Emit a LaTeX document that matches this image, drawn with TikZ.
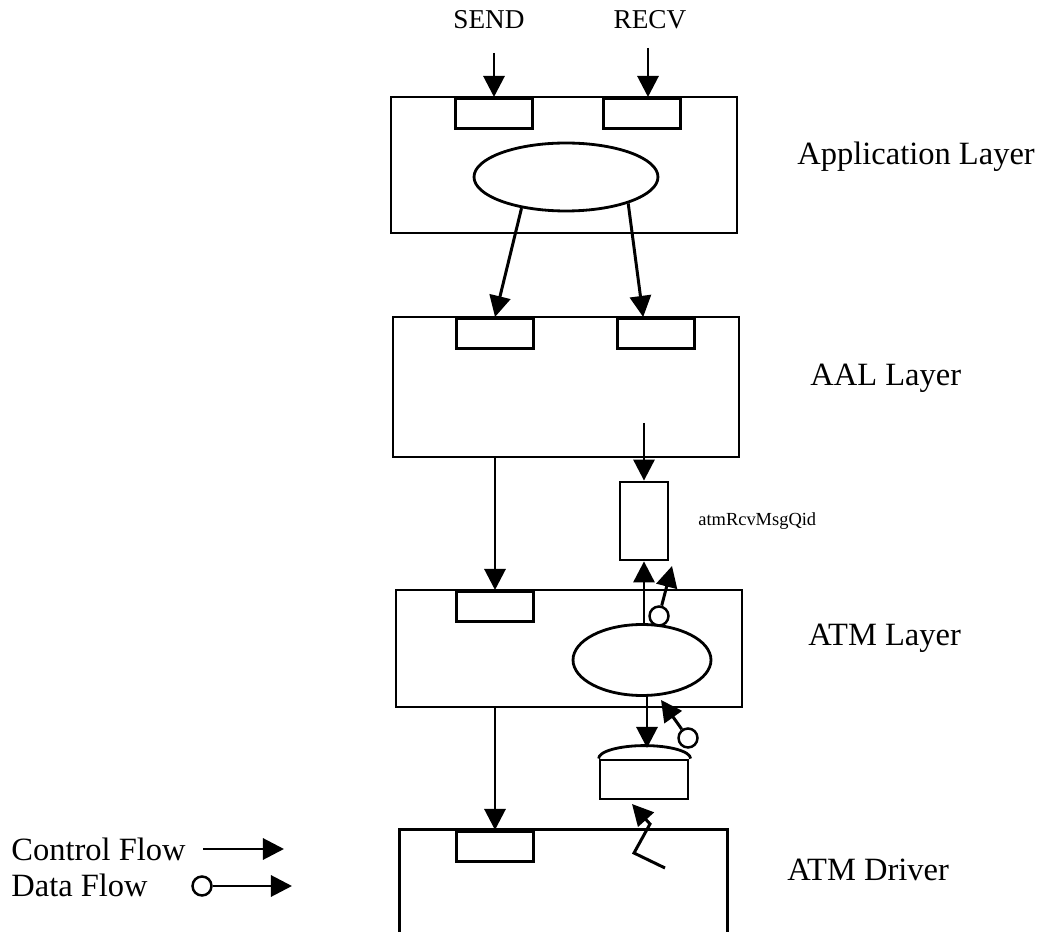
\documentclass[tikz,border=0pt]{standalone}
\usepackage{fontspec}
\setmainfont{Liberation Serif}
\usetikzlibrary{arrows.meta, shapes.geometric}

\begin{document}
\begin{tikzpicture}[
    x=0.02cm, y=-0.02cm,
    layer/.style={draw, line width=1.6pt, inner sep=0pt},
    port/.style={draw, line width=1.6pt, anchor=north, minimum width=1.55cm, minimum height=0.6cm, inner sep=0pt},
    proc/.style={draw, ellipse, line width=1.6pt, inner sep=0pt},
    dot/.style={draw, circle, line width=1.4pt, minimum size=0.38cm, inner sep=0pt},
    lbl/.style={anchor=west, inner sep=0pt, font=\fontsize{18.5pt}{22pt}\selectfont},
    sig/.style={font=\fontsize{15.5pt}{18pt}\selectfont},
    flow/.style={-{Triangle[length=12pt,width=12pt]}, line width=1.7pt}
]
  \useasboundingbox (0,0) rectangle (1046,932);

  % layers
  \node[layer, minimum width=6.92cm, minimum height=2.72cm] (app) at (564,165) {};
  \node[layer, minimum width=6.92cm, minimum height=2.8cm] (aal) at (566,387) {};
  \node[layer, minimum width=6.92cm, minimum height=2.34cm] (atm) at (569,648.5) {};
  \node[minimum width=6.54cm, minimum height=2.04cm, inner sep=0pt] (drv) at (563.5,881) {};
  \draw[line width=1.6pt] (drv.south west) |- (drv.north east) -- (drv.south east);

  \node[port] (appsend) at (494,97) {};
  \node[port] (apprecv) at (642,97) {};
  \node[port] (aalsend) at (495,317) {};
  \node[port] (aalrecv) at (656,317) {};
  \node[port] (atmport) at (495,590) {};
  \node[port] (drvport) at (495,830) {};

  \node[proc, minimum width=3.68cm, minimum height=1.36cm] (appproc) at (566,177) {};
  \node[proc, minimum width=2.76cm, minimum height=1.42cm] (atmproc) at (642,660) {};

  \node[layer, minimum width=0.96cm, minimum height=1.56cm] (queue) at (644,521) {};
  \node[layer, minimum width=1.76cm, minimum height=0.78cm] (disk) at (644,779.5) {};
  \draw[line width=1.6pt] (disk.north west) arc[start angle=180, end angle=0, x radius=0.92cm, y radius=0.26cm];

  % labels
  \node[sig] (send) at (489,20) {SEND};
  \node[sig] (recv) at (650,20) {RECV};
  \node[lbl] (applbl) at (797,157) {Application Layer};
  \node[lbl] (aallbl) at (810,378) {AAL Layer};
  \node[lbl] (atmlbl) at (808,638) {ATM Layer};
  \node[lbl] (drvlbl) at (787,870) {ATM Driver};
  \node[anchor=west, inner sep=0pt, font=\fontsize{10.5pt}{12pt}\selectfont] (qlbl) at (698,521) {atmRcvMsgQid};

  % control flow
  \coordinate (sendin) at (494,53);
  \coordinate (recvin) at (648,48);
  \draw[flow] (sendin) -- (appsend.north);
  \draw[flow] (recvin) -- (recvin |- apprecv.north);
  \draw[flow] (appproc.215) -- (aalsend.north);
  \draw[flow] (appproc.337) -- (aalrecv.128);
  \coordinate (aalout) at (644,423);
  \draw[flow] (aalout) -- (queue.north);
  \draw[flow] (aal.south -| atmport.north) -- (atmport.north);
  \draw[flow] (atm.south -| drvport.north) -- (drvport.north);
  \draw[flow] (atmproc.north -| queue.south) -- (queue.south);
  \coordinate (disktop) at (647,748);
  \draw[flow] (atmproc.south -| disktop) -- (disktop);

  % data flow
  \node[dot] (d1) at (659,616) {};
  \coordinate (d1tip) at (672,566);
  \draw[flow] (d1) -- (d1tip);
  \node[dot] (d2) at (688,738) {};
  \coordinate (d2tip) at (661,700);
  \draw[flow] (d2) -- (d2tip);
  \coordinate (bolt) at (665,868);
  \coordinate (bolttip) at (632,804);
  \draw[flow] (bolt) -- ++(-31,-15) -- ++(16,-29) -- (bolttip);

  % legend
  \node[lbl] (ctrllbl) at (11,849) {Control Flow};
  \node[lbl] (datalbl) at (11,885) {Data Flow};
  \coordinate (ctrlstart) at (203,849);
  \coordinate (ctrlend) at (284,849);
  \draw[flow] (ctrlstart) -- (ctrlend);
  \node[dot] (legdot) at (202,886) {};
  \coordinate (dataend) at (292,886);
  \draw[flow] (legdot) -- (dataend);
\end{tikzpicture}
\end{document}
